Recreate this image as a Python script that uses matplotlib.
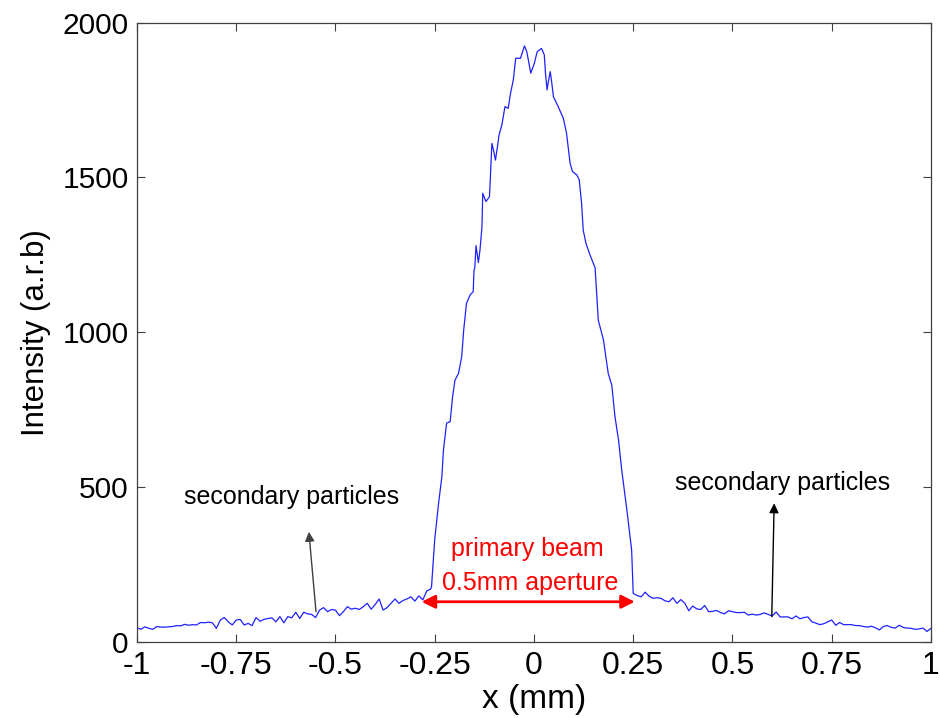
"""
Beam intensity profile across the 0.5 mm aperture.

Output:
- out.png
"""

import matplotlib

matplotlib.use("Agg")
import matplotlib.pyplot as plt
import numpy as np

plt.rcParams["font.family"] = ["Liberation Sans", "DejaVu Sans"]

# left wing, x = -1.00 ... -0.26 in steps of 0.01
left_x_start, left_x_stop = -1.00, -0.26
left_intensity = [
    45, 40, 48, 43, 40, 49, 47, 47, 48, 49,
    52, 51, 56, 53, 55, 54, 62, 61, 63, 61,
    43, 70, 78, 64, 54, 70, 72, 54, 59, 52,
    78, 66, 72, 75, 77, 64, 81, 61, 81, 77,
    95, 75, 95, 90, 88, 78, 102, 110, 97, 104,
    102, 84, 97, 113, 105, 108, 104, 113, 124, 105,
    120, 138, 102, 110, 124, 138, 124, 133, 138, 145,
    131, 148, 135, 164, 170,
]

# primary beam, read point by point
peak_x = [
    -0.258, -0.250, -0.240, -0.232, -0.228, -0.220, -0.211, -0.205, -0.199,
    -0.190, -0.182, -0.177, -0.170, -0.161, -0.153, -0.151, -0.149, -0.146,
    -0.140, -0.136, -0.131, -0.129, -0.121, -0.112, -0.109, -0.106, -0.101,
    -0.097, -0.092, -0.088, -0.081, -0.073, -0.065, -0.059, -0.052, -0.046,
    -0.034, -0.024, -0.018, -0.008, 0.001, 0.008, 0.019, 0.026, 0.029,
    0.033, 0.037, 0.041, 0.045, 0.049, 0.061, 0.074, 0.082, 0.091,
    0.097, 0.108, 0.114, 0.120, 0.124, 0.131, 0.141, 0.154, 0.162,
    0.175, 0.187, 0.196, 0.204, 0.213, 0.221, 0.234, 0.246, 0.250,
]
peak_intensity = [
    178, 330, 450, 533, 619, 706, 711, 792, 845,
    867, 921, 1007, 1093, 1120, 1131, 1201, 1207, 1280,
    1225, 1265, 1341, 1449, 1422, 1438, 1524, 1610, 1583,
    1556, 1599, 1637, 1669, 1729, 1723, 1772, 1815, 1885,
    1885, 1925, 1906, 1837, 1869, 1906, 1917, 1896, 1837,
    1783, 1815, 1842, 1804, 1761, 1729, 1691, 1643, 1546,
    1519, 1508, 1492, 1416, 1330, 1287, 1250, 1208, 1039,
    975, 867, 829, 727, 652, 555, 426, 296, 156,
]

# right wing, x = 0.26 ... 1.00 in steps of 0.01
right_x_start, right_x_stop = 0.26, 1.00
right_intensity = [
    149, 145, 160, 147, 140, 142, 140, 132, 129, 142,
    124, 136, 124, 100, 115, 106, 104, 117, 97, 98,
    101, 94, 90, 100, 97, 94, 94, 95, 86, 89,
    86, 88, 93, 88, 83, 96, 80, 80, 80, 74,
    83, 74, 78, 80, 64, 60, 55, 58, 64, 70,
    53, 62, 55, 55, 55, 52, 52, 49, 47, 50,
    45, 38, 49, 52, 46, 44, 53, 46, 44, 43,
    40, 41, 44, 33, 43,
]

x_ticks = [-1, -0.75, -0.5, -0.25, 0, 0.25, 0.5, 0.75, 1]
x_tick_labels = ["-1", "-0.75", "-0.5", "-0.25", "0", "0.25", "0.5", "0.75", "1"]
y_ticks = [0, 500, 1000, 1500, 2000]


def build_profile():
    left_x = np.linspace(left_x_start, left_x_stop, len(left_intensity))
    right_x = np.linspace(right_x_start, right_x_stop, len(right_intensity))
    x = np.concatenate([left_x, peak_x, right_x])
    y = np.concatenate([left_intensity, peak_intensity, right_intensity])
    return x, y


def main():
    x, y = build_profile()

    fig = plt.figure(figsize=(9.4, 7.18), dpi=100)
    ax = fig.add_axes([0.1457, 0.1063, 0.8447, 0.8621])

    ax.plot(x, y, color="#2020ff", lw=0.9)

    ax.set_xlim(-1, 1)
    ax.set_ylim(0, 2000)
    ax.set_xticks(x_ticks)
    ax.set_xticklabels(x_tick_labels)
    ax.set_yticks(y_ticks)

    ax.tick_params(direction="in", length=6, width=0.8, colors="#404040",
                   labelcolor="black", top=True, right=True)
    ax.tick_params(axis="x", pad=7, labelsize=23)
    ax.tick_params(axis="y", pad=6, labelsize=21.5)
    for spine in ax.spines.values():
        spine.set_color("#404040")
        spine.set_linewidth(0.9)

    ax.set_xlabel("x (mm)", fontsize=24, labelpad=2)
    ax.set_ylabel("Intensity (a.r.b)", fontsize=22.5, labelpad=8)

    # secondary particles, left and right
    ax.text(-0.61, 467, "secondary particles", fontsize=18, ha="center", va="center")
    ax.annotate("", xy=(-0.567, 355), xytext=(-0.549, 97),
                arrowprops=dict(arrowstyle="-|>", color="#404040", lw=1,
                                mutation_scale=14, shrinkA=0, shrinkB=0))
    ax.text(0.625, 513, "secondary particles", fontsize=18, ha="center", va="center")
    ax.annotate("", xy=(0.605, 447), xytext=(0.599, 81),
                arrowprops=dict(arrowstyle="-|>", color="black", lw=1,
                                mutation_scale=14, shrinkA=0, shrinkB=0))

    # primary beam aperture
    ax.text(-0.018, 300, "primary beam", fontsize=18, color="red",
            ha="center", va="center")
    ax.text(-0.01, 190, "0.5mm aperture", fontsize=18, color="red",
            ha="center", va="center")
    ax.annotate("", xy=(-0.283, 129), xytext=(0.254, 129),
                arrowprops=dict(arrowstyle="<|-|>", color="red", lw=2,
                                mutation_scale=20, shrinkA=0, shrinkB=0))

    fig.savefig("out.png", dpi=100)
    plt.close(fig)


if __name__ == "__main__":
    main()
